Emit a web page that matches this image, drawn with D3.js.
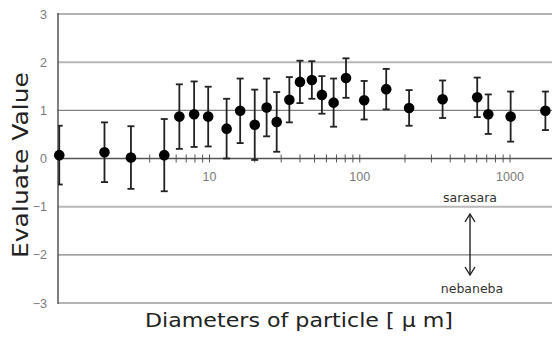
<!DOCTYPE html>
<html><head><meta charset="utf-8">
<script src="https://cdn.jsdelivr.net/npm/d3@7"></script>
<style>html,body{margin:0;padding:0;background:#fff;}svg{display:block;}</style>
</head><body>
<svg id="c" width="552" height="338"></svg>
<script>
const diameters = [1, 2, 3, 5, 6.3, 7.9, 9.8, 13, 16, 20, 24, 28, 34, 40, 48, 56, 67, 81, 107, 150, 213, 356, 605, 717, 1010, 1720];
const evalValues = [0.07, 0.13, 0.02, 0.07, 0.87, 0.92, 0.87, 0.62, 0.99, 0.70, 1.06, 0.76, 1.22, 1.59, 1.63, 1.32, 1.16, 1.67, 1.21, 1.44, 1.05, 1.23, 1.27, 0.92, 0.87, 0.99];
const errValues = [0.61, 0.62, 0.65, 0.75, 0.67, 0.68, 0.62, 0.62, 0.67, 0.73, 0.60, 0.62, 0.47, 0.44, 0.39, 0.39, 0.50, 0.41, 0.40, 0.42, 0.37, 0.39, 0.41, 0.41, 0.52, 0.40];
const yTicks = [3, 2, 1, 0, -1, -2, -3];
const xTickLabels = [10, 100, 1000];
const xMinorTicks = [2,3,4,5,6,7,8,9,10,20,30,40,50,60,70,80,90,100,200,300,400,500,600,700,800,900,1000];
const yTitle = "Evaluate Value";
const xTitle = "Diameters of particle [ \u03bc m]";
const upperNote = "sarasara";
const lowerNote = "nebaneba";

const svg = d3.select("#c");
const pL = 58, pR = 552, pT = 14, pB = 303;
const x = d3.scaleLog().domain([1, 1000]).range([59.25, 510]);
const y = d3.scaleLinear().domain([-3, 3]).range([pB, pT]);

// gridlines
const gridStyle = {3: ["#b4b4b4", 2], 2: ["#b8b8b8", 2], 1: ["#808080", 1.2], "-1": ["#b8b8b8", 2], "-2": ["#808080", 1.2], "-3": ["#b4b4b4", 2]};
svg.append("g").selectAll("line").data(yTicks.filter(d => d !== 0)).join("line")
  .attr("x1", pL).attr("x2", pR)
  .attr("y1", d => y(d)).attr("y2", d => y(d))
  .attr("stroke", d => gridStyle[d][0]).attr("stroke-width", d => gridStyle[d][1]);

// y axis line
svg.append("line").attr("x1", pL).attr("x2", pL).attr("y1", pT - 1).attr("y2", pB + 1)
  .attr("stroke", "#555").attr("stroke-width", 1.5);

// x axis at 0
const xAxis = d3.axisBottom(x).tickValues(xMinorTicks).tickSize(0).tickFormat("");
const gx = svg.append("g").attr("transform", `translate(0,${y(0)})`).call(xAxis);
gx.select(".domain").remove();
svg.append("line").attr("x1", pL).attr("x2", pR).attr("y1", y(0)).attr("y2", y(0))
  .attr("stroke", "#555").attr("stroke-width", 1.5);
svg.append("g").selectAll("line").data(xMinorTicks).join("line")
  .attr("x1", d => x(d)).attr("x2", d => x(d))
  .attr("y1", y(0) - 4).attr("y2", y(0) + 4)
  .attr("stroke", "#555").attr("stroke-width", 1);

// tick labels
svg.append("g").selectAll("text").data(yTicks).join("text")
  .attr("x", 47).attr("y", d => y(d) + 4.5)
  .attr("text-anchor", "end")
  .attr("font-family", "Liberation Sans, Arial, sans-serif").attr("font-size", 12.5)
  .attr("fill", "#7a7a7a")
  .text(d => d < 0 ? "\u2212" + Math.abs(d) : d);
svg.append("g").selectAll("text").data(xTickLabels).join("text")
  .attr("x", d => x(d)).attr("y", 181)
  .attr("text-anchor", "middle")
  .attr("font-family", "Liberation Sans, Arial, sans-serif").attr("font-size", 12.5)
  .attr("fill", "#7a7a7a")
  .text(d => d);

// data
const data = diameters.map((d, i) => ({d, v: evalValues[i], e: errValues[i]}));
svg.append("clipPath").attr("id", "plotclip").append("rect")
  .attr("x", pL).attr("y", 0).attr("width", pR - pL).attr("height", 338);
const eb = svg.append("g").attr("clip-path", "url(#plotclip)")
  .attr("stroke", "#222").attr("stroke-width", 1.8);
eb.selectAll("line.v").data(data).join("line").attr("class", "v")
  .attr("x1", d => x(d.d)).attr("x2", d => x(d.d))
  .attr("y1", d => y(d.v + d.e)).attr("y2", d => y(d.v - d.e));
eb.selectAll("line.t").data(data).join("line").attr("class", "t")
  .attr("x1", d => x(d.d) - 3.5).attr("x2", d => x(d.d) + 3.5)
  .attr("y1", d => y(d.v + d.e)).attr("y2", d => y(d.v + d.e));
eb.selectAll("line.b").data(data).join("line").attr("class", "b")
  .attr("x1", d => x(d.d) - 3.5).attr("x2", d => x(d.d) + 3.5)
  .attr("y1", d => y(d.v - d.e)).attr("y2", d => y(d.v - d.e));
svg.append("g").selectAll("circle").data(data).join("circle")
  .attr("cx", d => x(d.d)).attr("cy", d => y(d.v)).attr("r", 5.3)
  .attr("fill", "#000");

// notes and arrow
const noteX = 470;
svg.append("text").attr("x", noteX).attr("y", 202).attr("text-anchor", "middle")
  .attr("font-family", "DejaVu Sans, sans-serif").attr("font-size", 12.5).attr("fill", "#333")
  .text(upperNote);
svg.append("text").attr("x", noteX + 2).attr("y", 293).attr("text-anchor", "middle")
  .attr("font-family", "DejaVu Sans, sans-serif").attr("font-size", 12.5).attr("fill", "#333")
  .text(lowerNote);
const ar = svg.append("g").attr("stroke", "#222").attr("stroke-width", 1.4).attr("fill", "none");
ar.append("line").attr("x1", noteX).attr("x2", noteX).attr("y1", 214).attr("y2", 275);
ar.append("path").attr("d", `M${noteX - 5},${222} L${noteX},${214} L${noteX + 5},${222}`);
ar.append("path").attr("d", `M${noteX - 5},${267} L${noteX},${275} L${noteX + 5},${267}`);

// titles
svg.append("text").attr("transform", "translate(28,165) rotate(-90)")
  .attr("text-anchor", "middle")
  .attr("font-family", "DejaVu Sans, sans-serif").attr("font-size", 22).attr("fill", "#222")
  .attr("textLength", 186).attr("lengthAdjust", "spacingAndGlyphs")
  .text(yTitle);
svg.append("text").attr("x", 299).attr("y", 327).attr("text-anchor", "middle")
  .attr("font-family", "DejaVu Sans, sans-serif").attr("font-size", 19.5).attr("fill", "#222")
  .attr("textLength", 308).attr("lengthAdjust", "spacingAndGlyphs")
  .text(xTitle);
</script>
</body></html>
